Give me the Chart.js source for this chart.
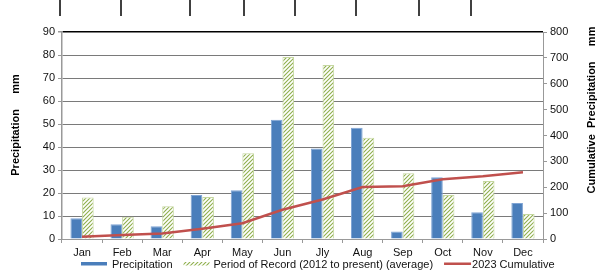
<!DOCTYPE html>
<html>
<head>
<meta charset="utf-8">
<script src="https://cdn.jsdelivr.net/npm/chart.js@4.4.1/dist/chart.umd.min.js"></script>
<style>
  html, body { margin: 0; padding: 0; background: #fff; }
  #wrap { width: 605px; height: 276px; position: relative; }
</style>
</head>
<body>
<div id="wrap"><canvas id="rainChart"></canvas></div>
<script>
// monthly values
const months = ['Jan', 'Feb', 'Mar', 'Apr', 'May', 'Jun', 'Jly', 'Aug', 'Sep', 'Oct', 'Nov', 'Dec'];
const precipitation = [9.0, 6.4, 5.5, 19.1, 21.2, 51.9, 39.3, 48.4, 3.3, 26.8, 11.6, 15.6];
const recordAverage = [18.0, 9.7, 14.2, 18.3, 37.3, 79.1, 75.7, 44.0, 28.6, 19.1, 25.2, 10.9];
const cumulative2023 = [9.0, 15.4, 20.9, 40.0, 61.2, 113.1, 152.4, 200.8, 204.1, 230.9, 242.5, 258.1];
const leftTicks = [0, 10, 20, 30, 40, 50, 60, 70, 80, 90];
const rightTicks = [0, 100, 200, 300, 400, 500, 600, 700, 800];

const FONT = '"Liberation Sans", Arial, sans-serif';

// diagonal hatch for the period-of-record bars
function makeHatch() {
    const c = document.createElement('canvas');
    c.width = 4; c.height = 4;
    const g = c.getContext('2d');
    g.fillStyle = '#ffffff';
    g.fillRect(0, 0, 4, 4);
    g.strokeStyle = '#8faf4c';
    g.lineWidth = 1.1;
    g.beginPath();
    g.moveTo(0, 4); g.lineTo(4, 0);
    g.moveTo(-1, 1); g.lineTo(1, -1);
    g.moveTo(3, 5); g.lineTo(5, 3);
    g.stroke();
    return g.createPattern(c, 'repeat');
}
const hatch = makeHatch();

// stubs at the very top, rotated axis titles, and the legend row
const decorations = {
    id: 'decorations',
    afterDraw(chart) {
        const ctx = chart.ctx;
        ctx.save();
        ctx.strokeStyle = '#000';
        ctx.lineWidth = 1.5;
        [60, 121, 190, 244, 295, 356, 419, 471].forEach(x => {
            ctx.beginPath();
            ctx.moveTo(x, 0);
            ctx.lineTo(x, 16);
            ctx.stroke();
        });
        ctx.restore();

        const title = (text, x, y) => {
            ctx.save();
            ctx.fillStyle = '#000';
            ctx.font = 'bold 11px ' + FONT;
            ctx.textAlign = 'center';
            ctx.textBaseline = 'middle';
            ctx.translate(x, y);
            ctx.rotate(-Math.PI / 2);
            ctx.fillText(text, 0, 0);
            ctx.restore();
        };
        title('Precipitation     mm', 16, 125);
        title('Cumulative  Precipitation     mm', 592, 110);

        // legend
        ctx.save();
        ctx.font = '11px ' + FONT;
        ctx.textBaseline = 'middle';
        ctx.fillStyle = '#111';
        const gaps = [5, 4, 1];
        let x = 81;
        chart.data.datasets.forEach((ds, i) => {
            ctx.fillStyle = ds.backgroundColor;
            if (ds.type === 'line') ctx.fillRect(x, 262.5, 27, 2.5);
            else ctx.fillRect(x, 262, 26, 3.5);
            x += (ds.type === 'line' ? 27 : 26) + gaps[i];
            ctx.fillStyle = '#111';
            ctx.fillText(ds.label, x, 265);
            x += ctx.measureText(ds.label).width + 11;
        });
        ctx.restore();
    }
};

new Chart(document.getElementById('rainChart'), {
    type: 'bar',
    data: {
        labels: months,
        datasets: [
            {
                label: 'Precipitation',
                data: precipitation,
                backgroundColor: '#4a7ebb',
                borderColor: '#7fa4d4',
                borderWidth: 1,
                yAxisID: 'y',
                order: 1
            },
            {
                label: 'Period of Record (2012 to present) (average)',
                data: recordAverage,
                backgroundColor: hatch,
                borderColor: '#c5d7a0',
                borderWidth: 1,
                yAxisID: 'y',
                order: 2
            },
            {
                type: 'line',
                label: '2023 Cumulative',
                data: cumulative2023,
                borderColor: '#c0504d',
                backgroundColor: '#c0504d',
                borderWidth: 2.5,
                pointRadius: 0,
                tension: 0,
                yAxisID: 'y1',
                order: 0
            }
        ]
    },
    options: {
        responsive: true,
        maintainAspectRatio: false,
        animation: false,
        categoryPercentage: 0.58,
        barPercentage: 1.0,
        layout: { padding: { top: 32, left: 0, right: 0, bottom: 17 } },
        plugins: {
            tooltip: { enabled: false },
            legend: { display: false }
        },
        scales: {
            x: {
                offset: true,
                grid: { display: true, drawOnChartArea: false, drawTicks: true, tickLength: 4, color: '#999', offset: true },
                border: { color: '#999', width: 1 },
                ticks: { font: { family: FONT, size: 11 }, color: '#111', padding: 3 },
                afterFit: (s) => { s.height = 20; }
            },
            y: {
                position: 'left',
                min: 0,
                max: 90,
                afterBuildTicks: (s) => { s.ticks = leftTicks.map(v => ({ value: v })); },
                grid: {
                    color: (c) => c.tick && c.tick.value === 90 ? '#000' : '#7a7a7a',
                    lineWidth: (c) => c.tick && c.tick.value === 90 ? 1.5 : 1,
                    tickLength: 4,
                    tickColor: '#999'
                },
                border: { color: '#999', width: 1.5 },
                ticks: { font: { family: FONT, size: 11 }, color: '#111', padding: 3 },
                afterFit: (s) => { s.width = 62; }
            },
            y1: {
                position: 'right',
                min: 0,
                max: 800,
                afterBuildTicks: (s) => { s.ticks = rightTicks.map(v => ({ value: v })); },
                grid: { drawOnChartArea: false, tickLength: 4, color: '#999' },
                border: { color: '#999', width: 1 },
                ticks: { font: { family: FONT, size: 11 }, color: '#111', padding: 3 },
                afterFit: (s) => { s.width = 62; }
            }
        }
    },
    plugins: [decorations]
});
</script>
</body>
</html>
